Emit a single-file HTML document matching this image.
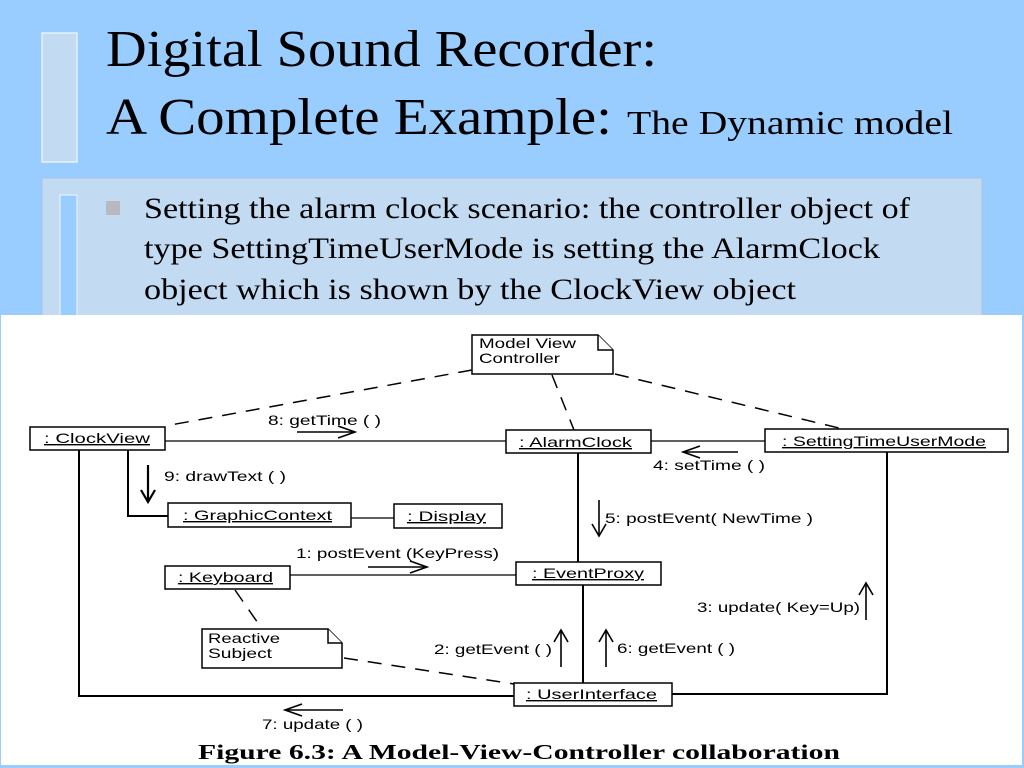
<!DOCTYPE html>
<html><head><meta charset="utf-8"><style>
html,body{margin:0;padding:0;width:1024px;height:768px;overflow:hidden;background:#99ccff}
svg{display:block}
.s{font-family:"Liberation Serif",serif;fill:#000}
.d{font-family:"Liberation Sans",sans-serif;font-size:14px;fill:#000}
</style></head><body>
<svg width="1024" height="768" xmlns="http://www.w3.org/2000/svg">
<rect width="1024" height="768" fill="#99ccff"/>
<rect x="42" y="33" width="35" height="129" fill="#c2daf2" stroke="#e8f2fc" stroke-width="1.5"/>
<text class="s" x="106" y="66" font-size="52" textLength="551" lengthAdjust="spacingAndGlyphs">Digital Sound Recorder:</text>
<text class="s" x="106" y="134" font-size="52" textLength="506" lengthAdjust="spacingAndGlyphs">A Complete Example:</text>
<text class="s" x="627" y="134" font-size="34" textLength="326" lengthAdjust="spacingAndGlyphs">The Dynamic model</text>
<rect x="42" y="178" width="940" height="140" fill="#c2daf2" stroke="#aac4e0"/>
<rect x="60" y="195" width="17" height="125" fill="#99ccff" stroke="#f0f8ff" stroke-width="1"/>
<rect x="106" y="201" width="14" height="14" fill="#b8b8c0"/>
<text class="s" x="144" y="218" font-size="30" textLength="766" lengthAdjust="spacingAndGlyphs">Setting the alarm clock scenario: the controller object of</text>
<text class="s" x="144" y="258" font-size="30" textLength="736" lengthAdjust="spacingAndGlyphs">type SettingTimeUserMode is setting the AlarmClock</text>
<text class="s" x="144" y="299" font-size="30" textLength="652" lengthAdjust="spacingAndGlyphs">object which is shown by the ClockView object</text>
<rect x="1" y="315" width="1021" height="450" fill="#fff"/>
<g stroke="#000" fill="none" stroke-width="1.2">
<g stroke-dasharray="14,10" stroke-width="1.5">
<line x1="472" y1="370" x2="165" y2="426"/>
<line x1="552" y1="375" x2="574" y2="430"/>
<line x1="615" y1="374" x2="843" y2="429"/>
<line x1="235" y1="590" x2="260" y2="626"/>
<line x1="344" y1="658" x2="514" y2="684"/>
</g>
<line x1="165" y1="441" x2="506" y2="441"/>
<line x1="651" y1="441" x2="765" y2="441"/>
<line x1="351" y1="518" x2="394" y2="518"/>
<line x1="290" y1="575" x2="516" y2="575"/>
<g stroke-width="2">
<polyline points="79,450 79,696 514,696"/>
<polyline points="128,450 128,516 168,516"/>
<line x1="578" y1="453" x2="578" y2="562"/>
<line x1="583" y1="585" x2="583" y2="683"/>
<polyline points="672,694 887,694 887,452"/>
</g>
<g stroke-width="1.5" fill="#fff">
<rect x="30" y="427" width="135" height="23"/>
<rect x="506" y="430" width="145" height="23"/>
<rect x="765" y="429" width="243" height="23"/>
<rect x="168" y="503" width="183" height="24"/>
<rect x="394" y="504" width="108" height="24"/>
<rect x="165" y="566" width="125" height="23"/>
<rect x="516" y="562" width="145" height="23"/>
<rect x="514" y="683" width="158" height="23"/>
<path d="M472 335 H598 L613 350 V374 H472 Z"/>
<path d="M598 335 V350 H613"/>
<path d="M202 629 H328 L342 643 V668 H202 Z"/>
<path d="M328 629 V643 H342"/>
</g>
<g stroke-width="1.6">
<line x1="297" y1="432" x2="355" y2="432"/><polyline points="338,426 355,432 338,438"/>
<line x1="148" y1="465" x2="148" y2="502" stroke-width="2.2"/><polyline points="141,490 148,502 155,490" stroke-width="2.2"/>
<line x1="368" y1="567" x2="427" y2="567"/><polyline points="410,561 427,567 410,573"/>
<line x1="738" y1="452" x2="683" y2="452"/><polyline points="700,446 683,452 700,458"/>
<line x1="599" y1="500" x2="599" y2="536"/><polyline points="592,524 599,536 606,524"/>
<line x1="866" y1="620" x2="866" y2="583"/><polyline points="859,595 866,583 873,595"/>
<line x1="561" y1="667" x2="561" y2="630"/><polyline points="554,642 561,630 568,642"/>
<line x1="606" y1="667" x2="606" y2="630"/><polyline points="599,642 606,630 613,642"/>
<line x1="343" y1="710" x2="285" y2="710"/><polyline points="302,704 285,710 302,716"/>
</g>
</g>
<g class="d" lengthAdjust="spacingAndGlyphs">
<text x="44" y="443" text-decoration="underline" textLength="106" lengthAdjust="spacingAndGlyphs">: ClockView</text>
<text x="519" y="447" text-decoration="underline" textLength="113" lengthAdjust="spacingAndGlyphs">: AlarmClock</text>
<text x="782" y="446" text-decoration="underline" textLength="204" lengthAdjust="spacingAndGlyphs">: SettingTimeUserMode</text>
<text x="183" y="520" text-decoration="underline" textLength="149" lengthAdjust="spacingAndGlyphs">: GraphicContext</text>
<text x="407" y="521" text-decoration="underline" textLength="79" lengthAdjust="spacingAndGlyphs">: Display</text>
<text x="178" y="582" text-decoration="underline" textLength="95" lengthAdjust="spacingAndGlyphs">: Keyboard</text>
<text x="532" y="578" text-decoration="underline" textLength="112" lengthAdjust="spacingAndGlyphs">: EventProxy</text>
<text x="526" y="699" text-decoration="underline" textLength="131" lengthAdjust="spacingAndGlyphs">: UserInterface</text>
<text x="479" y="348" textLength="97" lengthAdjust="spacingAndGlyphs">Model View</text>
<text x="479" y="363" textLength="81" lengthAdjust="spacingAndGlyphs">Controller</text>
<text x="208" y="643" textLength="72" lengthAdjust="spacingAndGlyphs">Reactive</text>
<text x="208" y="658" textLength="64" lengthAdjust="spacingAndGlyphs">Subject</text>
<text x="268" y="425" textLength="113" lengthAdjust="spacingAndGlyphs">8: getTime ( )</text>
<text x="164" y="481" textLength="122" lengthAdjust="spacingAndGlyphs">9: drawText ( )</text>
<text x="296" y="558" textLength="203" lengthAdjust="spacingAndGlyphs">1: postEvent (KeyPress)</text>
<text x="653" y="470" textLength="112" lengthAdjust="spacingAndGlyphs">4: setTime ( )</text>
<text x="605" y="523" textLength="208" lengthAdjust="spacingAndGlyphs">5: postEvent( NewTime )</text>
<text x="697" y="612" textLength="163" lengthAdjust="spacingAndGlyphs">3: update( Key=Up)</text>
<text x="434" y="654" textLength="118" lengthAdjust="spacingAndGlyphs">2: getEvent ( )</text>
<text x="617" y="653" textLength="118" lengthAdjust="spacingAndGlyphs">6: getEvent ( )</text>
<text x="262" y="729" textLength="101" lengthAdjust="spacingAndGlyphs">7: update ( )</text>
</g>
<text class="s" x="198" y="759" font-size="21" font-weight="bold" textLength="642" lengthAdjust="spacingAndGlyphs">Figure 6.3: A Model-View-Controller collaboration</text>
</svg>
</body></html>
